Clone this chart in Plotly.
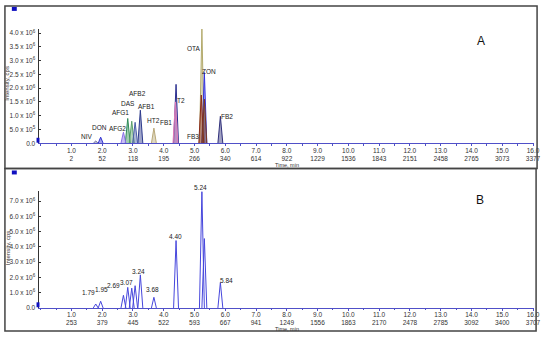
import plotly.graph_objects as go

# ---------------- data ----------------
time_ticks = [1, 2, 3, 4, 5, 6, 7, 8, 9, 10, 11, 12, 13, 14, 15, 16]
time_tick_text = ["1.0", "2.0", "3.0", "4.0", "5.0", "6.0", "7.0", "8.0",
                  "9.0", "10.0", "11.0", "12.0", "13.0", "14.0", "15.0", "16.0"]
scan_ticks_a = ["2", "52", "118", "195", "266", "340", "614", "922", "1229",
                "1536", "1843", "2151", "2458", "2765", "3073", "3377"]
scan_ticks_b = ["253", "379", "445", "522", "593", "667", "941", "1249", "1556",
                "1863", "2170", "2478", "2785", "3092", "3400", "3707"]

y_ticks_a = [0, 0.5e6, 1.0e6, 1.5e6, 2.0e6, 2.5e6, 3.0e6, 3.5e6, 4.0e6]
y_tick_text_a = ["0.0", "5.0 x 10<sup>5</sup>", "1.0 x 10<sup>6</sup>", "1.5 x 10<sup>6</sup>",
                 "2.0 x 10<sup>6</sup>", "2.5 x 10<sup>6</sup>", "3.0 x 10<sup>6</sup>",
                 "3.5 x 10<sup>6</sup>", "4.0 x 10<sup>6</sup>"]
y_ticks_b = [0, 1e6, 2e6, 3e6, 4e6, 5e6, 6e6, 7e6]
y_tick_text_b = ["0.0", "1.0 x 10<sup>6</sup>", "2.0 x 10<sup>6</sup>", "3.0 x 10<sup>6</sup>",
                 "4.0 x 10<sup>6</sup>", "5.0 x 10<sup>6</sup>", "6.0 x 10<sup>6</sup>",
                 "7.0 x 10<sup>6</sup>"]

# Panel A: individual mycotoxin traces (retention time min, height cps)
a_names = ["OTA", "ZON", "T2", "FB3", "", "FB1", "AFB1", "FB2", "AFG1", "DAS",
           "AFB2", "HT2", "AFG2", "DON", "NIV"]
a_times = [5.24, 5.32, 4.40, 5.22, 5.32, 4.38, 3.24, 5.84, 2.83, 2.96,
           3.07, 3.68, 2.69, 1.95, 1.79]
a_heights = [4.15e6, 2.57e6, 2.14e6, 1.75e6, 1.6e6, 1.5e6, 1.2e6, 0.98e6, 0.9e6, 0.8e6,
             0.76e6, 0.55e6, 0.4e6, 0.22e6, 0.08e6]

# Panel B: total ion chromatogram (retention time min, height cps)
b_labels = ["1.79", "1.95", "2.69", "", "", "3.07", "3.24", "3.68", "4.40", "5.24", "", "5.84"]
b_times = [1.79, 1.95, 2.69, 2.83, 2.96, 3.07, 3.24, 3.68, 4.40, 5.24, 5.32, 5.84]
b_heights = [0.26e6, 0.44e6, 0.83e6, 1.35e6, 1.3e6, 1.46e6, 2.17e6, 0.7e6,
             4.42e6, 7.63e6, 4.55e6, 1.67e6]

# ---------------- styles ----------------
W, H = 550, 341
HALF_W = 0.08
a_colors = {"OTA": "#b3aa6c", "ZON": "#3434e0", "T2": "#2b2f8f", "FB3": "#8b2a1a",
            "": "#7a3a20", "FB1": "#e07ab8", "AFB1": "#2d3a8c", "FB2": "#30307a",
            "AFG1": "#2e8b57", "DAS": "#5aa06a", "AFB2": "#4b5fa8", "HT2": "#b8a878",
            "AFG2": "#8a6ee8", "DON": "#3030d0", "NIV": "#7070a0"}
# label pixel offsets relative to peak apex (xshift, yshift)
a_label_off = {"NIV": (-9, 5), "DON": (-1, 10), "AFG2": (-6, 4), "AFG1": (-7, 6),
               "DAS": (-4, 18), "AFB2": (2, 29), "AFB1": (6, 4), "HT2": (0, 8),
               "FB1": (-9, -21), "T2": (5, -16), "OTA": (-8, -19), "FB3": (-8, -41),
               "ZON": (5, 1), "FB2": (7, 0)}
b_label_off = {"1.79": (-7, 12), "1.95": (1, 12), "2.69": (-10, 10), "3.07": (-9, 3),
               "3.24": (-2, 3), "3.68": (-1, 8), "4.40": (-1, 4), "5.24": (-1, 4),
               "5.84": (6, 2)}

FONT = "Liberation Sans, Arial, sans-serif"


def px(x):
    return x / W


def py(y):
    return 1 - y / H


def rgba(hexc, a):
    hexc = hexc.lstrip("#")
    r, g, b = int(hexc[0:2], 16), int(hexc[2:4], 16), int(hexc[4:6], 16)
    return f"rgba({r},{g},{b},{a})"


fig = go.Figure()

for name, t, h in zip(a_names, a_times, a_heights):
    c = a_colors[name]
    fig.add_trace(go.Scatter(x=[t - HALF_W, t, t + HALF_W], y=[0, h, 0], mode="lines",
                             line=dict(color=c, width=1), fill="toself",
                             fillcolor=rgba(c, 0.45), xaxis="x", yaxis="y",
                             showlegend=False, hoverinfo="skip"))

for lab, t, h in zip(b_labels, b_times, b_heights):
    fig.add_trace(go.Scatter(x=[t - HALF_W, t, t + HALF_W], y=[0, h, 0], mode="lines",
                             line=dict(color="#4646dc", width=1),
                             xaxis="x2", yaxis="y2", showlegend=False, hoverinfo="skip"))

annotations = []
for name, t, h in zip(a_names, a_times, a_heights):
    if name:
        dx, dy = a_label_off[name]
        annotations.append(dict(x=t, y=h, xref="x", yref="y", text=name, showarrow=False,
                                xshift=dx, yshift=dy, font=dict(size=6.5, color="#222", family=FONT)))
for lab, t, h in zip(b_labels, b_times, b_heights):
    if lab:
        dx, dy = b_label_off[lab]
        annotations.append(dict(x=t, y=h, xref="x2", yref="y2", text=lab, showarrow=False,
                                xshift=dx, yshift=dy, font=dict(size=6.5, color="#222", family=FONT)))

# panel letters and axis titles
annotations += [
    dict(x=px(493), y=py(32), xref="paper", yref="paper", text="A", showarrow=False,
         font=dict(size=12, color="#111", family=FONT)),
    dict(x=px(492), y=py(202), xref="paper", yref="paper", text="B", showarrow=False,
         font=dict(size=12, color="#111", family=FONT)),
    dict(x=px(277), y=py(166), xref="paper", yref="paper", text="Time, min", showarrow=False,
         xanchor="left", yanchor="middle", font=dict(size=5.5, color="#333", family=FONT)),
    dict(x=px(277), y=py(331.5), xref="paper", yref="paper", text="Time, min", showarrow=False,
         xanchor="left", yanchor="middle", font=dict(size=5.5, color="#333", family=FONT)),
    dict(x=px(7.5), y=py(84), xref="paper", yref="paper", text="Intensity, cps", showarrow=False,
         textangle=-90, xanchor="center", yanchor="middle",
         font=dict(size=6, color="#333", family=FONT)),
    dict(x=px(7.5), y=py(250), xref="paper", yref="paper", text="Intensity, cps", showarrow=False,
         textangle=-90, xanchor="center", yanchor="middle",
         font=dict(size=6, color="#333", family=FONT)),
]

shapes = [
    dict(type="rect", xref="paper", yref="paper", x0=px(5), x1=px(544), y0=py(170), y1=py(6),
         line=dict(color="#444", width=1.5)),
    dict(type="rect", xref="paper", yref="paper", x0=px(5), x1=px(543), y0=py(334), y1=py(170),
         line=dict(color="#444", width=1.5)),
    dict(type="rect", xref="paper", yref="paper", x0=px(12), x1=px(17), y0=py(11), y1=py(7),
         fillcolor="#1010c0", line=dict(width=0)),
    dict(type="rect", xref="paper", yref="paper", x0=px(12), x1=px(17), y0=py(176), y1=py(172),
         fillcolor="#1010c0", line=dict(width=0)),
    dict(type="rect", xref="paper", yref="paper", x0=px(37), x1=px(40), y0=py(144), y1=py(139),
         fillcolor="#1010c0", line=dict(width=0)),
    dict(type="rect", xref="paper", yref="paper", x0=px(37), x1=px(40), y0=py(310), y1=py(305),
         fillcolor="#1010c0", line=dict(width=0)),
]

x_common = dict(range=[-0.07, 16.02], tickmode="array", tickvals=time_ticks,
                showgrid=False, zeroline=False, showline=True, linecolor="#5050c8", linewidth=1,
                ticks="outside", ticklen=2, tickcolor="#5050c8",
                minor=dict(ticks="outside", ticklen=1.5, dtick=0.5, tickcolor="#5050c8"),
                tickfont=dict(size=6.5, color="#333", family=FONT))
y_common = dict(showgrid=False, zeroline=False, showline=True, linecolor="#333", linewidth=1,
                ticks="inside", ticklen=2, tickcolor="#333", tickmode="array",
                tickfont=dict(size=6.5, color="#333", family=FONT), ticklabelstandoff=1)

fig.update_layout(
    width=W, height=H, margin=dict(l=0, r=0, t=0, b=0),
    paper_bgcolor="white", plot_bgcolor="white", showlegend=False,
    xaxis=dict(domain=[px(39), px(540.5)], anchor="y", ticklabelstandoff=-1,
               ticktext=[f"{a}<br>{b}" for a, b in zip(time_tick_text, scan_ticks_a)], **x_common),
    yaxis=dict(domain=[py(144.5), py(29)], anchor="x", range=[0, 4.16e6],
               tickvals=y_ticks_a, ticktext=y_tick_text_a, **y_common),
    xaxis2=dict(domain=[px(39), px(540.5)], anchor="y2", ticklabelstandoff=-2,
                ticktext=[f"{a}<br>{b}" for a, b in zip(time_tick_text, scan_ticks_b)], **x_common),
    yaxis2=dict(domain=[py(310.7), py(193)], anchor="x2", range=[0, 7.65e6],
                tickvals=y_ticks_b, ticktext=y_tick_text_b, **y_common),
    annotations=annotations, shapes=shapes,
)

fig.write_html("out.html", config={"displayModeBar": False},
               post_script="document.body.style.margin='0';document.body.style.overflow='hidden';")
